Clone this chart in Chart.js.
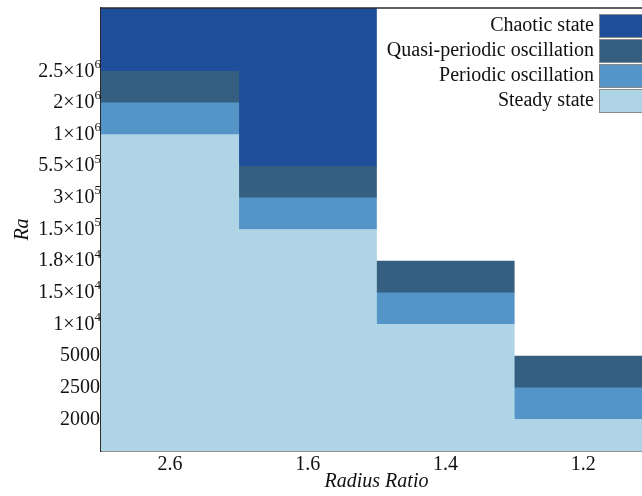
<!DOCTYPE html>
<html>
<head>
<meta charset="utf-8">
<script src="https://cdn.jsdelivr.net/npm/chart.js@4"></script>
<style>
  html, body { margin: 0; padding: 0; overflow: hidden; background: #fff; }
</style>
</head>
<body>
<canvas id="regime_canvas" width="662" height="496"></canvas>
<script>
// radius ratios along x
const ratios = ['2.6', '1.6', '1.4', '1.2'];

// Ra values shown on the y axis, bottom to top (evenly spaced)
const raValues = [2000, 2500, 5000, 1e4, 1.5e4, 1.8e4, 1.5e5, 3e5, 5.5e5, 1e6, 2e6, 2.5e6];
const raLabels = ['2000', '2500', '5000', '1×10^4', '1.5×10^4', '1.8×10^4',
                  '1.5×10^5', '3×10^5', '5.5×10^5', '1×10^6', '2×10^6', '2.5×10^6'];

// upper Ra limit of each flow regime, per radius ratio
const steadyMax   = [1e6,   1.5e5, 1e4,   2000];
const periodicMax = [2e6,   3e5,   1.5e4, 2500];
const quasiMax    = [2.5e6, 5.5e5, 1.8e4, 5000];
const chaotic     = [true,  true,  false, false];

const yTop = raValues.length + 2;

// position of an Ra value on the index axis
function pos(v) { return raValues.indexOf(v) + 1; }

const steadyBars   = steadyMax.map(v => [0, pos(v)]);
const periodicBars = periodicMax.map((v, i) => [pos(steadyMax[i]), pos(v)]);
const quasiBars    = quasiMax.map((v, i) => [pos(periodicMax[i]), pos(v)]);
const chaoticBars  = quasiMax.map((v, i) => chaotic[i] ? [pos(v), yTop] : null);

const serif = "'Liberation Serif', 'Times New Roman', serif";
const axisColor = '#2b2b2b';

// y tick labels with a raised exponent
const raTicks = {
    id: 'raTicks',
    afterDraw(chart) {
        const y = chart.scales.y;
        const ctx = chart.ctx;
        const right = y.right - 1;
        ctx.save();
        ctx.fillStyle = '#111';
        ctx.textBaseline = 'middle';
        raLabels.forEach((lab, i) => {
            const py = y.getPixelForValue(i + 1);
            const parts = lab.split('^');
            if (parts.length === 1) {
                ctx.font = '20px ' + serif;
                ctx.textAlign = 'right';
                ctx.fillText(lab, right, py);
                return;
            }
            ctx.font = '13px ' + serif;
            const ew = ctx.measureText(parts[1]).width;
            ctx.textAlign = 'left';
            ctx.fillText(parts[1], right - ew + 1, py - 7);
            ctx.font = '20px ' + serif;
            ctx.textAlign = 'right';
            ctx.fillText(parts[0], right - ew + 1, py);
        });
        ctx.restore();
    }
};

// legend drawn in the top right corner of the plot, text left of the swatch
const cornerLegend = {
    id: 'cornerLegend',
    afterDraw(chart) {
        const ctx = chart.ctx;
        const sets = chart.data.datasets.slice().reverse();
        ctx.save();
        ctx.font = '20px ' + serif;
        ctx.textAlign = 'right';
        ctx.textBaseline = 'middle';
        sets.forEach((ds, i) => {
            const top = 14 + i * 25;
            ctx.fillStyle = ds.backgroundColor;
            ctx.fillRect(599, top, 50, 23);
            ctx.strokeStyle = '#8a8a8a';
            ctx.lineWidth = 1;
            ctx.strokeRect(599.5, top + 0.5, 50, 23);
            ctx.fillStyle = '#111';
            ctx.fillText(ds.label, 594, top + 12);
        });
        ctx.restore();
    }
};

// top frame line
const topFrame = {
    id: 'topFrame',
    afterDatasetsDraw(chart) {
        const a = chart.chartArea;
        const ctx = chart.ctx;
        ctx.save();
        ctx.strokeStyle = axisColor;
        ctx.lineWidth = 1.5;
        ctx.beginPath();
        ctx.moveTo(a.left, a.top);
        ctx.lineTo(a.right, a.top);
        ctx.stroke();
        ctx.restore();
    }
};

const barOpts = { grouped: false, barPercentage: 1, categoryPercentage: 1, borderWidth: 0 };

const ctx = document.getElementById('regime_canvas');
const theChart = new Chart(ctx, {
    type: 'bar',
    data: {
        labels: ratios,
        datasets: [
            Object.assign({ label: 'Steady state', data: steadyBars, backgroundColor: '#afd4e6' }, barOpts),
            Object.assign({ label: 'Periodic oscillation', data: periodicBars, backgroundColor: '#5494c6' }, barOpts),
            Object.assign({ label: 'Quasi-periodic oscillation', data: quasiBars, backgroundColor: '#345f80' }, barOpts),
            Object.assign({ label: 'Chaotic state', data: chaoticBars, backgroundColor: '#1f4e9b' }, barOpts)
        ]
    },
    options: {
        responsive: false,
        animation: false,
        layout: { padding: { top: 8, right: 10, left: 0, bottom: 0 } },
        plugins: {
            legend: { display: false },
            tooltip: { enabled: false }
        },
        scales: {
            x: {
                grid: { display: false, drawTicks: false },
                border: { color: axisColor, width: 1.5 },
                ticks: { color: '#111', font: { family: serif, size: 20 }, padding: 2, maxRotation: 0 },
                title: {
                    display: true, text: 'Radius Ratio', color: '#111',
                    font: { family: serif, size: 20, style: 'italic' },
                    padding: { top: 0, bottom: 2 }
                },
                afterFit(scale) { scale.height = 45; }
            },
            y: {
                min: 0,
                max: yTop,
                grid: { display: false, drawTicks: false },
                border: { color: axisColor, width: 1.5 },
                ticks: { display: false, stepSize: 1 },
                title: {
                    display: true, text: 'Ra', color: '#111',
                    font: { family: serif, size: 20, style: 'italic' },
                    padding: { top: 11, bottom: 0 }
                },
                afterFit(scale) { scale.width = 101; }
            }
        }
    },
    plugins: [topFrame, raTicks, cornerLegend]
});
</script>
</body>
</html>
